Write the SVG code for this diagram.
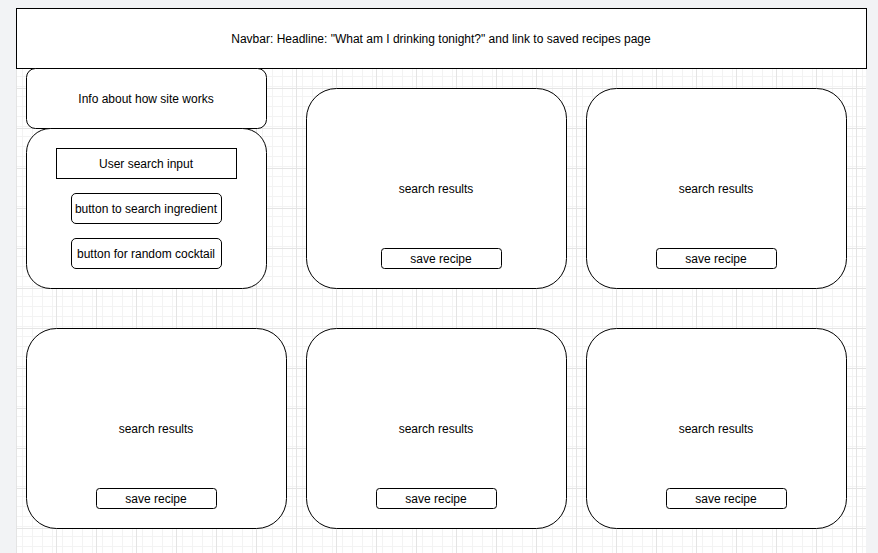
<svg xmlns="http://www.w3.org/2000/svg" width="878" height="553" viewBox="0 0 878 553">
<defs>
<pattern id="minor" x="16" y="8" width="10" height="10" patternUnits="userSpaceOnUse">
<path d="M 0.5 0 V 10 M 0 0.5 H 10" fill="none" stroke="#f3f3f3" stroke-width="1"/>
</pattern>
<pattern id="major" x="16" y="8" width="40" height="40" patternUnits="userSpaceOnUse">
<rect width="40" height="40" fill="url(#minor)"/>
<path d="M 0.5 0 V 40 M 0 0.5 H 40" fill="none" stroke="#e4e4e4" stroke-width="1"/>
</pattern>
</defs>
<style>
.box{fill:#ffffff;stroke:#000000;stroke-width:1}
.lbl{font-family:"Liberation Sans",Arial,Helvetica,sans-serif;font-size:12px;fill:#000000;text-anchor:middle}
</style>
<rect width="878" height="553" fill="#f2f3f5"/>
<rect x="16" y="8" width="850" height="545" fill="#ffffff"/>
<rect x="16" y="8" width="850" height="545" fill="url(#major)"/>

<g id="navbar">
<rect class="box" x="16.5" y="8.5" width="850" height="60"/>
<text class="lbl" x="441" y="43">Navbar: Headline: "What am I drinking tonight?" and link to saved recipes page</text>
</g>
<g id="info">
<rect class="box" x="26.5" y="68.5" width="240" height="60" rx="9" ry="9"/>
<text class="lbl" x="146" y="103">Info about how site works</text>
</g>
<g id="search-panel">
<rect class="box" x="26.5" y="128.5" width="240" height="160" rx="24" ry="24"/>
</g>
<g id="search-input">
<rect class="box" x="56.5" y="148.5" width="180" height="30"/>
<text class="lbl" x="146" y="168">User search input</text>
</g>
<g id="btn-ingredient">
<rect class="box" x="71.5" y="193.5" width="150" height="30" rx="4.5" ry="4.5"/>
<text class="lbl" x="146" y="213">button to search ingredient</text>
</g>
<g id="btn-random">
<rect class="box" x="71.5" y="238.5" width="150" height="30" rx="4.5" ry="4.5"/>
<text class="lbl" x="146" y="258">button for random cocktail</text>
</g>

<g id="result-1">
<rect class="box" x="306.5" y="88.5" width="260" height="200" rx="30" ry="30"/>
<text class="lbl" x="436" y="193">search results</text>
</g>
<g id="save-1">
<rect class="box" x="381.5" y="248.5" width="120" height="20" rx="3" ry="3"/>
<text class="lbl" x="441" y="263">save recipe</text>
</g>
<g id="result-2">
<rect class="box" x="586.5" y="88.5" width="260" height="200" rx="30" ry="30"/>
<text class="lbl" x="716" y="193">search results</text>
</g>
<g id="save-2">
<rect class="box" x="656.5" y="248.5" width="120" height="20" rx="3" ry="3"/>
<text class="lbl" x="716" y="263">save recipe</text>
</g>
<g id="result-3">
<rect class="box" x="26.5" y="328.5" width="260" height="200" rx="30" ry="30"/>
<text class="lbl" x="156" y="433">search results</text>
</g>
<g id="save-3">
<rect class="box" x="96.5" y="488.5" width="120" height="20" rx="3" ry="3"/>
<text class="lbl" x="156" y="503">save recipe</text>
</g>
<g id="result-4">
<rect class="box" x="306.5" y="328.5" width="260" height="200" rx="30" ry="30"/>
<text class="lbl" x="436" y="433">search results</text>
</g>
<g id="save-4">
<rect class="box" x="376.5" y="488.5" width="120" height="20" rx="3" ry="3"/>
<text class="lbl" x="436" y="503">save recipe</text>
</g>
<g id="result-5">
<rect class="box" x="586.5" y="328.5" width="260" height="200" rx="30" ry="30"/>
<text class="lbl" x="716" y="433">search results</text>
</g>
<g id="save-5">
<rect class="box" x="666.5" y="488.5" width="120" height="20" rx="3" ry="3"/>
<text class="lbl" x="726" y="503">save recipe</text>
</g>
<g id="connectors"></g>
</svg>
